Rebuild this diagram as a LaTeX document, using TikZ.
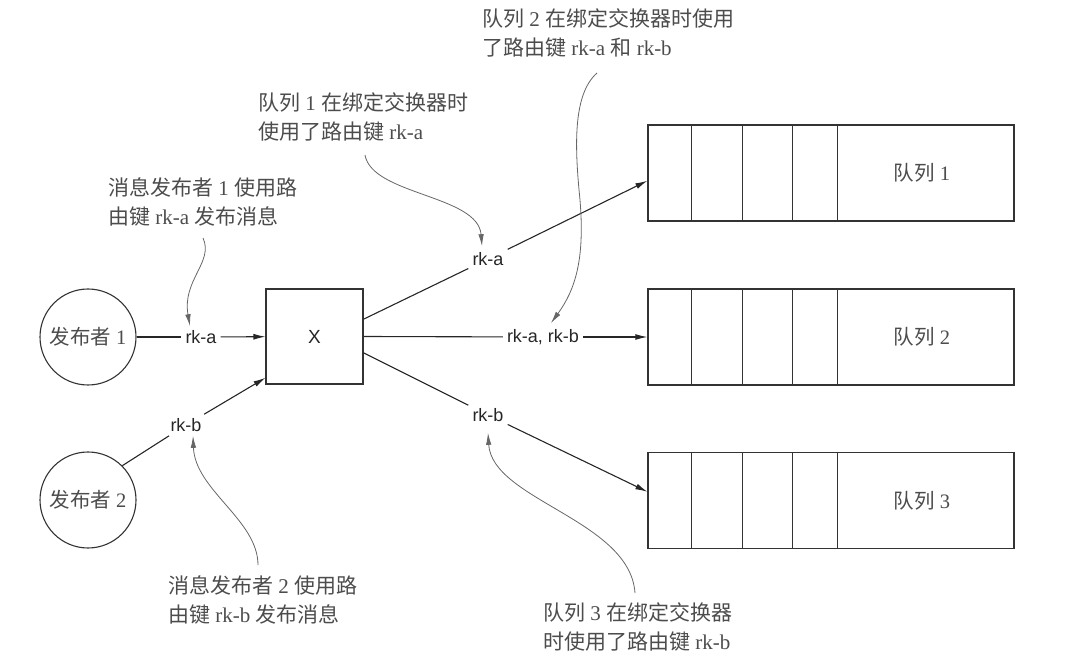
\documentclass[tikz,border=0pt]{standalone}
\usepackage{fontspec}
\setmainfont{Liberation Serif}
\setsansfont{Liberation Sans}
\newfontfamily\cjkfont{Noto Sans CJK SC}
\newcommand{\zh}[1]{{\cjkfont #1}}
\usetikzlibrary{arrows.meta,calc}
\begin{document}
\begin{tikzpicture}[x=1pt,y=-1pt,
  conn/.style={draw=black!85, line width=1.1pt},
  arr/.style={conn, -{Latex[length=12pt,width=6pt]}},
  note/.style={draw=black!60, line width=0.8pt, -{Latex[length=12pt,width=5.5pt]}},
  key/.style={font=\sffamily\fontsize{18}{20}\selectfont, text=black!85, inner sep=4pt},
  ann/.style={font=\fontsize{21}{29.5}\selectfont, text=black!70, align=left, anchor=north west, inner sep=0pt},
  pub/.style={circle, draw=black!80, line width=1.1pt, minimum size=96pt, inner sep=0pt,
    font=\fontsize{20.5}{24}\selectfont, text=black!70},
  xbox/.style={rectangle, draw=black!80, line width=1.1pt, minimum width=97pt, minimum height=95pt,
    inner sep=0pt, font=\sffamily\fontsize{19}{22}\selectfont, text=black!85},
  queue/.style={rectangle, draw=black!80, line width=1.3pt, minimum width=366pt, minimum height=96pt, inner sep=0pt},
  qline/.style={draw=black!80, line width=1.3pt},
  qlab/.style={font=\fontsize{20.5}{24}\selectfont, text=black!70, inner sep=0pt},
]
\path[use as bounding box] (0,0) rectangle (1080,660);

% publishers and exchange
\node[pub] (p1) at (88,337) {\zh{发布者} 1};
\node[pub] (p2) at (88,500) {\zh{发布者} 2};
\node[xbox] (X) at (314.5,336.5) {X};

% queues
\node[queue] (q1) at (831,173) {};
\node[queue] (q2) at (831,337) {};
\node[queue] (q3) at (831,500.5) {};
\foreach \q in {q1,q2,q3}{
  \foreach \d in {44,95,145,190}{
    \draw[qline] ($(\q.north west)+(\d,0)$) -- ($(\q.south west)+(\d,0)$);
  }
}
\node[qlab] (ql1) at ($(q1.center)+(91,0)$) {\zh{队列} 1};
\node[qlab] (ql2) at ($(q2.center)+(91,0)$) {\zh{队列} 2};
\node[qlab] (ql3) at ($(q3.center)+(91,0)$) {\zh{队列} 3};

% routing key labels
\node[key] (ka) at (201,337) {rk-a};
\node[key] (kb) at (186,425) {rk-b};
\node[key] (k1) at (488,259) {rk-a};
\node[key] (k2) at (543,337) {rk-a, rk-b};
\node[key] (k3) at (488,415) {rk-b};

% connectors
\draw[conn] (p1) -- (ka);
\draw[arr] (ka) -- (X);
\draw[conn] (p2.45) -- (kb);
\draw[arr] (kb) -- ($(X.south west)!0.07!(X.north west)$);
\draw[conn] ($(X.north east)!0.32!(X.south east)$) -- (k1);
\draw[arr] (k1) -- ($(q1.north west)!0.58!(q1.south west)$);
\draw[conn] (X.east) -- (k2);
\draw[arr] (k2) -- (q2.west);
\draw[conn] ($(X.north east)!0.67!(X.south east)$) -- (k3);
\draw[arr] (k3) -- ($(q3.north west)!0.41!(q3.south west)$);

% annotations
\node[ann] (n1) at (108,177) {\zh{消息发布者} 1 \zh{使用路}\\\zh{由键} rk-a \zh{发布消息}};
\node[ann] (n2) at (258,92) {\zh{队列} 1 \zh{在绑定交换器时}\\\zh{使用了路由键} rk-a};
\node[ann] (n3) at (482,8) {\zh{队列} 2 \zh{在绑定交换器时使用}\\\zh{了路由键} rk-a \zh{和} rk-b};
\node[ann] (n4) at (168,575) {\zh{消息发布者} 2 \zh{使用路}\\\zh{由键} rk-b \zh{发布消息}};
\node[ann] (n5) at (543,602) {\zh{队列} 3 \zh{在绑定交换器}\\\zh{时使用了路由键} rk-b};

% annotation curves
\draw[note] ($(n1.north west)+(95,61)$) .. controls (214,262) and (182,280) .. ($(ka.north)+(-11,0)$);
\draw[note] ($(n2.north west)+(107,63)$) .. controls (372,195) and (478,195) .. ($(k1.north)+(-6,-2)$);
\draw[note] ($(n3.north west)+(115,65)$) .. controls (572,95) and (575,150) .. (580,200)
  .. controls (585,260) and (575,290) .. ($(k2.north)+(8,-2)$);
\draw[note] ($(n4.north west)+(90,-10)$) .. controls (258,520) and (195,490) .. ($(kb.south)+(7,0)$);
\draw[note] ($(n5.north west)+(92,-9)$) .. controls (630,520) and (492,500) .. ($(k3.south)+(0,7)$);
\end{tikzpicture}
\end{document}
